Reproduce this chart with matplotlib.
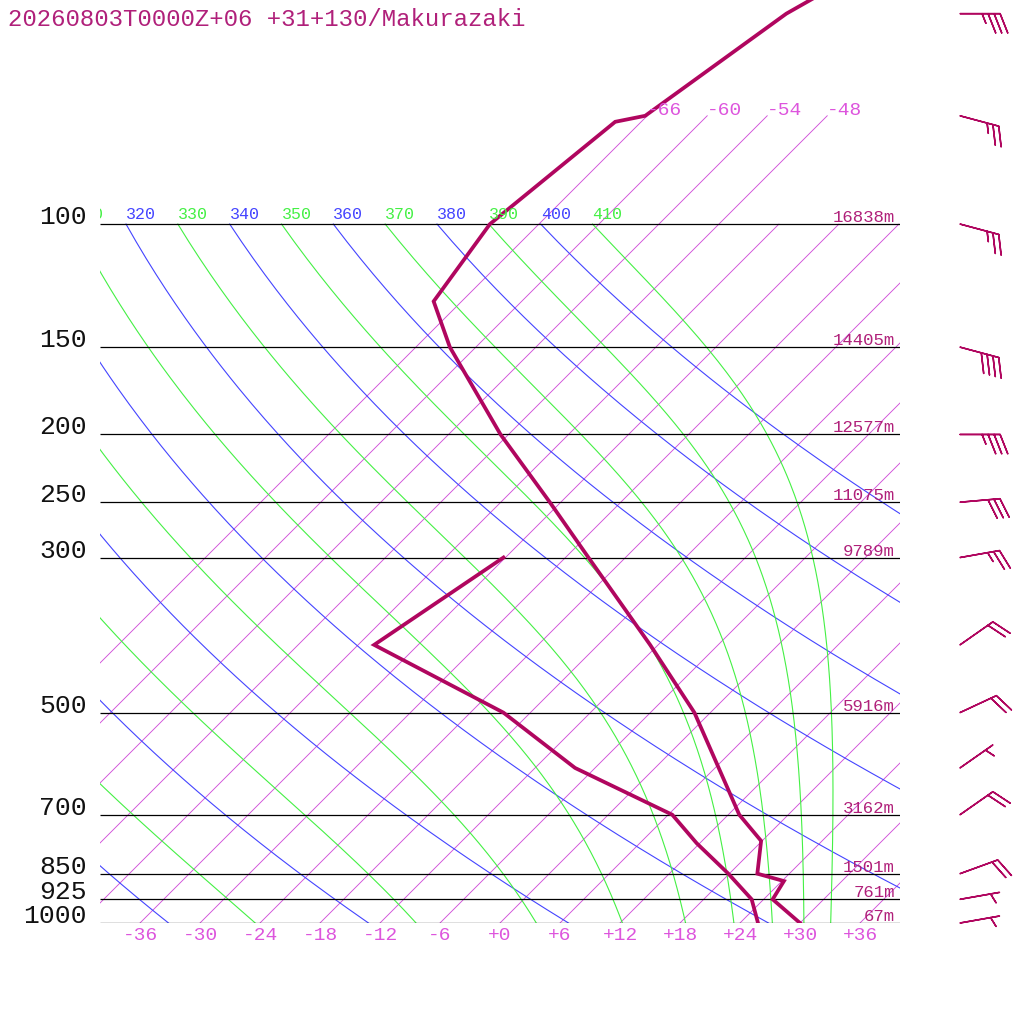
import numpy as np
import matplotlib
matplotlib.use("Agg")
import matplotlib.pyplot as plt
from matplotlib.transforms import offset_copy

title = "20260803T0000Z+06 +31+130/Makurazaki"

levels = [100, 150, 200, 250, 300, 500, 700, 850, 925, 1000]
heights = [16838, 14405, 12577, 11075, 9789, 5916, 3162, 1501, 761, 67]

temp_p = [1000, 925, 871, 850, 763, 700, 500, 400, 300, 250, 200, 150, 129, 100, 71.4, 70, 50, 30]
temp_t = [30.0, 24.9, 24.2, 20.8, 17.9, 13.1, -1.6, -12.8, -27.7, -37.1, -48.8, -62.6, -68.8,
          -70.9, -68.6, -66.2, -62.3, -50.5]

dew_p = [1000, 925, 850, 769, 700, 600, 500, 400, 300]
dew_t = [25.8, 22.8, 17.9, 11.7, 6.4, -8.0, -20.7, -40.4, -36.2]

wind_p = [1000, 925, 850, 700, 600, 500, 400, 300, 250, 200, 150, 100, 70, 50]
wind_dir = [80, 80, 70, 55, 55, 65, 55, 80, 85, 90, 105, 105, 105, 90]
wind_kt = [5, 5, 20, 20, 5, 20, 20, 25, 30, 35, 40, 25, 25, 35]

isotherms = list(range(-66, 37, 6))
high_isotherms = [-66, -60, -54, -48]
dry_thetas = list(range(240, 401, 20))
moist_thetas = list(range(250, 411, 20))

# --- styling ---
PROFILE = "#b0065f"
HEIGHT_COL = "#b0207a"
ISO_COL = "#d050d8"
ISO_LABEL = "#dd55dd"
DRY_COL = "#4444ff"
MOIST_COL = "#44f044"
MONO = "Liberation Mono"

P_TOP = 47.8
AX_H = 923.0
SKEW = AX_H / np.log(1000.0 / P_TOP) / 10.0   # 45 degree isotherms

RD = 287.04
CP = 1005.7
LV = 2.501e6
EPS = 0.622
KAPPA = RD / CP


def skew_x(t, p):
    return np.asarray(t) + SKEW * np.log(1000.0 / np.asarray(p, dtype=float))


def moist_rate(p, t):
    es = 6.112 * np.exp(17.67 * (t - 273.15) / (t - 29.65))
    rs = EPS * es / (p - es)
    return (RD * t + LV * rs) / (CP + LV * LV * rs * EPS / (RD * t * t)) / p


def moist_adiabat(theta, ps):
    t = theta * (ps[0] / 1000.0) ** KAPPA
    out = [t]
    for i in range(len(ps) - 1):
        p, h = ps[i], ps[i + 1] - ps[i]
        k1 = moist_rate(p, t)
        k2 = moist_rate(p + h / 2, t + h / 2 * k1)
        k3 = moist_rate(p + h / 2, t + h / 2 * k2)
        k4 = moist_rate(p + h, t + h * k3)
        t = t + h / 6 * (k1 + 2 * k2 + 2 * k3 + k4)
        out.append(t)
    return np.array(out)


fig = plt.figure(figsize=(10.24, 10.24), dpi=100)
ax = fig.add_axes([100 / 1024, 101 / 1024, 800 / 1024, 923 / 1024])
ax.set_yscale("log")
ax.set_ylim(1000, P_TOP)
ax.set_xlim(-40, 40)
ax.axis("off")

# isotherms
for t in isotherms:
    p_end = 70 if t in high_isotherms else 100
    ps = np.array([1000.0, p_end])
    ax.plot(skew_x([t, t], ps), ps, color=ISO_COL, lw=0.65)

ps = np.linspace(100, 1000, 301)
for th in dry_thetas:
    ts = th * (ps / 1000.0) ** KAPPA - 273.15
    ax.plot(skew_x(ts, ps), ps, color=DRY_COL, lw=0.8)
for th in moist_thetas:
    ts = moist_adiabat(th, ps) - 273.15
    ax.plot(skew_x(ts, ps), ps, color=MOIST_COL, lw=0.8)

ax.hlines(levels, -40, 40, colors="black", lw=0.9)

# theta labels along 100 hPa (only those reaching into the frame)
up5 = offset_copy(ax.transData, fig=fig, x=0, y=5, units="dots")
for th, col in [(v, DRY_COL) for v in dry_thetas] + [(v, MOIST_COL) for v in moist_thetas]:
    x0 = skew_x(th * 0.1 ** KAPPA - 273.15, 100)
    if x0 < -43:
        continue
    ax.text(x0, 100, str(th), color=col, fontsize=12, family=MONO,
            ha="left", va="baseline", transform=up5, clip_on=True)

# isotherm labels
below = offset_copy(ax.transData, fig=fig, x=0, y=-13, units="dots")
for t in isotherms:
    if -40 < t < 40:
        ax.text(t, 1000, f"{t:+d}" if t >= 0 else f"{t:d}", color=ISO_LABEL, fontsize=14,
                family=MONO, ha="center", va="center", transform=below, clip_on=False)
above = offset_copy(ax.transData, fig=fig, x=0, y=5, units="dots")
for t in high_isotherms:
    ax.text(skew_x(t, 70), 70, f"{t:d}", color=ISO_LABEL, fontsize=14, family=MONO,
            ha="left", va="center", transform=above)

# pressure and height labels
left = offset_copy(ax.transData, fig=fig, x=-13, y=0, units="dots")
hgt = offset_copy(ax.transData, fig=fig, x=-5, y=2, units="dots")
for p, h in zip(levels, heights):
    ax.text(-40, p, str(p), color="#111111", fontsize=19, family=MONO,
            ha="right", va="baseline", transform=left, clip_on=False)
    ax.text(40, p, f"{h}m", color=HEIGHT_COL, fontsize=12.5, family=MONO,
            ha="right", va="baseline", transform=hgt, clip_on=False)

# temperature and dewpoint
ax.plot(skew_x(temp_t, temp_p), temp_p, color=PROFILE, lw=2.7, solid_joinstyle="miter")
ax.plot(skew_x(dew_t, dew_p), dew_p, color=PROFILE, lw=2.7, solid_joinstyle="miter")

fig.text(8 / 1024, 1 - 26 / 1024, title, color=HEIGHT_COL, fontsize=17.3, family=MONO,
         ha="left", va="baseline")

# wind barbs (barb size in px ~ length**2/2 * dpi/72)
axw = fig.add_axes([940 / 1024, 101 / 1024, 84 / 1024, 923 / 1024])
axw.set_yscale("log")
axw.set_ylim(1000, P_TOP)
axw.set_xlim(0, 84)
axw.axis("off")
rad = np.deg2rad(wind_dir)
u = -np.array(wind_kt) * np.sin(rad)
v = -np.array(wind_kt) * np.cos(rad)
axw.barbs(np.full(len(wind_p), 20.0), wind_p, u, v, length=7.6, pivot="tip",
          sizes=dict(spacing=0.15, height=0.48, width=0.38),
          barbcolor=PROFILE, flagcolor=PROFILE, linewidth=1.1, clip_on=False)

fig.savefig("out.png", dpi=100)
